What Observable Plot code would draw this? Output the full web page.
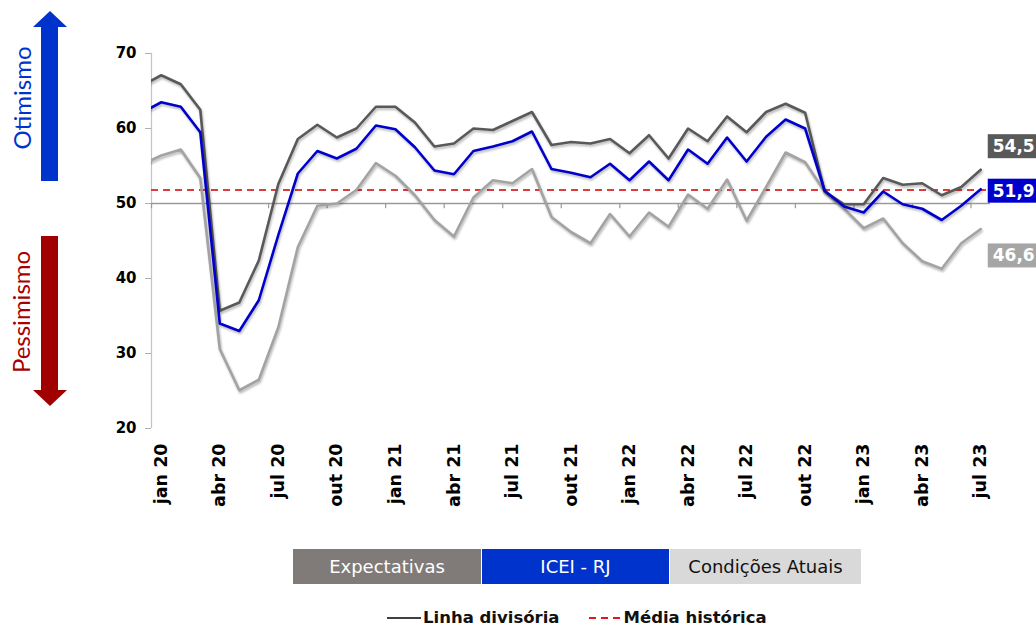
<!DOCTYPE html>
<html>
<head>
<meta charset="utf-8">
<script src="https://cdn.jsdelivr.net/npm/d3@7"></script>
<script src="https://cdn.jsdelivr.net/npm/@observablehq/plot@0.6"></script>
<style>
  html, body { margin: 0; padding: 0; background: #fff; }
  #wrap { position: relative; width: 1036px; height: 627px; overflow: hidden; font-family: "DejaVu Sans", sans-serif; }
  #chart { position: absolute; left: 0; top: 0; }
  #arrows { position: absolute; left: 0; top: 0; }
  #legend1 { position: absolute; left: 293px; top: 549px; display: flex; }
  #legend1 div { height: 35px; line-height: 35px; text-align: center; font-size: 18px; margin-right: 1px; }
  #legend2 { position: absolute; left: 387px; top: 607px; display: flex; align-items: center; font-size: 16.5px; font-weight: bold; color: #111; line-height: 22px; }
</style>
</head>
<body>
<div id="wrap">
  <div id="chart"></div>
  <svg id="arrows" width="80" height="420">
    <polygon points="41,181 58,181 58,27 67,27 50,11 33,27 41,27" fill="#0033cc"/>
    <text transform="translate(21,98) rotate(-90)" text-anchor="middle" dominant-baseline="central" font-family="Lato" font-size="24" fill="#0033cc">Otimismo</text>
    <polygon points="41,236 58,236 58,390 67,390 50,406 33,390 41,390" fill="#a00000"/>
    <text transform="translate(20,312) rotate(-90)" text-anchor="middle" dominant-baseline="central" font-family="Lato" font-size="24" fill="#a80000">Pessimismo</text>
  </svg>
  <div id="legend1"></div>
  <div id="legend2"></div>
</div>
<script>
// Months (first entry "dez 19" lies just before the visible axis start and is clipped)
const months = ["dez 19",
  "jan 20","fev 20","mar 20","abr 20","mai 20","jun 20","jul 20","ago 20","set 20","out 20","nov 20","dez 20",
  "jan 21","fev 21","mar 21","abr 21","mai 21","jun 21","jul 21","ago 21","set 21","out 21","nov 21","dez 21",
  "jan 22","fev 22","mar 22","abr 22","mai 22","jun 22","jul 22","ago 22","set 22","out 22","nov 22","dez 22",
  "jan 23","fev 23","mar 23","abr 23","mai 23","jun 23","jul 23"];

const expectativas = [65.7,
  67.1,65.9,62.5,35.7,36.8,42.4,52.6,58.6,60.5,58.8,60.0,62.9,
  62.9,60.8,57.6,58.0,60.0,59.8,61.0,62.2,57.8,58.2,58.0,58.6,
  56.7,59.1,56.0,60.0,58.3,61.6,59.5,62.2,63.3,62.1,51.6,49.9,
  49.9,53.4,52.5,52.7,51.1,52.2,54.5];

const icei = [62.1,
  63.5,62.9,59.5,34.0,33.0,37.1,45.8,54.0,57.0,56.0,57.3,60.4,
  59.9,57.5,54.4,53.9,57.0,57.6,58.3,59.6,54.6,54.1,53.5,55.3,
  53.1,55.6,53.1,57.2,55.3,58.8,55.6,58.9,61.2,60.0,51.7,49.6,
  48.8,51.6,49.9,49.3,47.8,49.7,51.9];

const condicoes = [55.2,
  56.4,57.2,53.4,30.6,25.1,26.5,33.5,44.2,49.7,50.0,51.8,55.4,
  53.7,51.1,47.8,45.6,50.8,53.1,52.7,54.6,48.2,46.2,44.7,48.6,
  45.6,48.8,46.9,51.2,49.3,53.2,47.7,52.2,56.8,55.5,51.6,49.3,
  46.7,48.0,44.7,42.3,41.3,44.7,46.6];

const mediaHistorica = 51.8;
const linhaDivisoria = 50;

const tickLabels = ["jan 20","abr 20","jul 20","out 20","jan 21","abr 21","jul 21","out 21",
  "jan 22","abr 22","jul 22","out 22","jan 23","abr 23","jul 23"];
const yTicks = [20, 30, 40, 50, 60, 70];

const seriesNames = ["Expectativas", "ICEI - RJ", "Condições Atuais"];
const lineColors = ["#595959", "#0000cc", "#a3a3a3"];
const boxColors = ["#595959", "#0000cc", "#a6a6a6"];
const legendFill = ["#807b78", "#0033cc", "#d9d9d9"];
const legendText = ["#ffffff", "#ffffff", "#111111"];
const labelDy = [-23, 2, 27];

// Build tables
const pos = m => months.indexOf(m) - 1; // jan 20 -> 0
const allSeries = [expectativas, icei, condicoes];
const tables = allSeries.map((vals, s) => vals.map((v, i) => ({month: months[i], x: pos(months[i]), value: v, serie: seriesNames[s]})));
const lastPoints = tables.map(t => t[t.length - 1]);
const tickPos = tickLabels.map(pos);
const labelMap = new Map(tickPos.map((p, i) => [p, tickLabels[i]]));
const boundaries = tickPos.map(p => p - 0.5);

const plot = Plot.plot({
  width: 1036,
  height: 530,
  marginTop: 53,
  marginBottom: 102,
  marginLeft: 151,
  marginRight: 46,
  style: {fontFamily: "DejaVu Sans", background: "transparent", overflow: "visible", color: "#000"},
  x: {type: "linear", domain: [-0.5, 42.5], label: null},
  y: {domain: [20, 70], label: null},
  marks: [
    Plot.ruleX([-0.5], {stroke: "#c4c4c4", strokeWidth: 1.2}),
    Plot.axisY({ticks: yTicks, tickSize: 6, tickPadding: 9, fontSize: 15, fontWeight: "bold", stroke: "#b0b0b0", tickFormat: d => String(d), label: null}),
    Plot.axisX({ticks: tickPos, tickFormat: d => labelMap.get(d), tickSize: 0, tickPadding: 15, tickRotate: -90, fontSize: 17.5, fontWeight: "bold", anchor: "bottom", label: null}),
    Plot.ruleY([linhaDivisoria], {stroke: "#9a9a9a", strokeWidth: 1.3}),
    Plot.ruleX(boundaries, {y1: linhaDivisoria, y2: linhaDivisoria - 0.7, stroke: "#9a9a9a", strokeWidth: 1.2}),
    Plot.ruleY([mediaHistorica], {stroke: "#e03a3a", strokeWidth: 2, strokeDasharray: "7,5"}),
    ...[2, 0, 1].map(s => Plot.line(tables[s], {x: "x", y: "value", stroke: lineColors[s], strokeWidth: 2.6, clip: true})),
    ...[0, 1, 2].map(s => Plot.text([lastPoints[s]], {
      x: "x", y: "value", text: d => d.value.toFixed(1).replace(".", ","),
      textAnchor: "start", dx: 12, dy: labelDy[s], fill: "#fff", fontSize: 17, fontWeight: "bold",
      className: "vlabel vlabel" + s
    }))
  ]
});
document.getElementById("chart").appendChild(plot);

// shadows on lines
plot.querySelectorAll('g[aria-label="line"] path').forEach(p => {
  p.style.filter = "drop-shadow(1px 2px 1.2px rgba(0,0,0,0.28))";
});

// background boxes for value labels
[0, 1, 2].forEach(s => {
  plot.querySelectorAll(".vlabel" + s + " text").forEach(t => {
    const b = t.getBBox();
    const r = document.createElementNS("http://www.w3.org/2000/svg", "rect");
    r.setAttribute("x", b.x - 5);
    r.setAttribute("y", b.y - 2);
    r.setAttribute("width", b.width + 10);
    r.setAttribute("height", b.height + 4);
    r.setAttribute("fill", boxColors[s]);
    const tr = t.getAttribute("transform");
    if (tr) r.setAttribute("transform", tr);
    t.parentNode.insertBefore(r, t);
  });
});

// legends
const l1 = document.getElementById("legend1");
const widths = [188, 187, 191];
seriesNames.forEach((n, i) => {
  const d = document.createElement("div");
  d.textContent = n;
  d.style.width = widths[i] + "px";
  d.style.background = legendFill[i];
  d.style.color = legendText[i];
  l1.appendChild(d);
});
const l2 = document.getElementById("legend2");
l2.innerHTML =
  '<svg width="34" height="10"><line x1="0" y1="5" x2="34" y2="5" stroke="#404040" stroke-width="2"/></svg>' +
  '<span style="margin-left:2px">Linha divisória</span>' +
  '<svg width="34" height="10" style="margin-left:28px"><line x1="1" y1="5" x2="34" y2="5" stroke="#e8141c" stroke-width="2" stroke-dasharray="7,5"/></svg>' +
  '<span style="margin-left:2px">Média histórica</span>';
</script>
</body>
</html>
